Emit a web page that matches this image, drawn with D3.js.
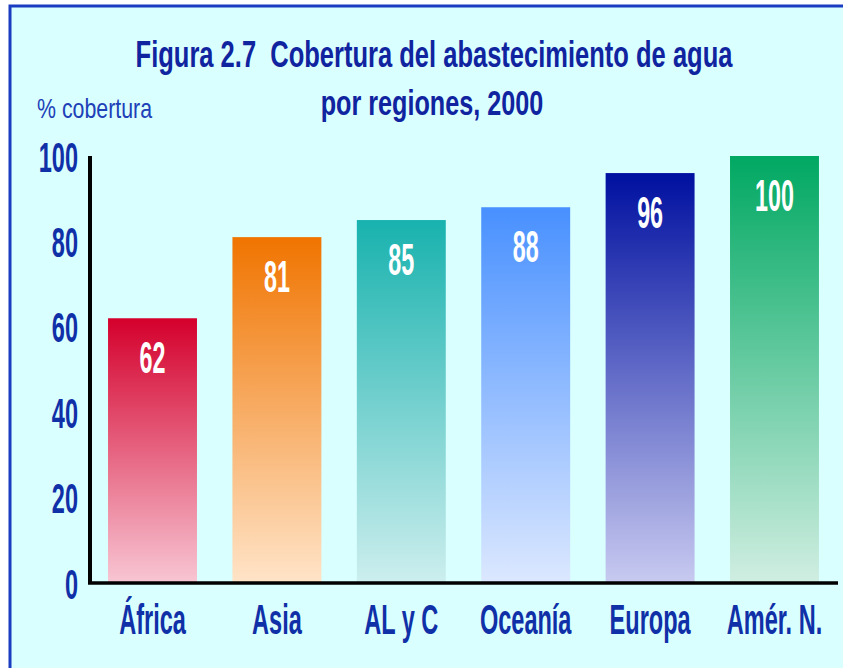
<!DOCTYPE html>
<html>
<head>
<meta charset="utf-8">
<script src="https://cdn.jsdelivr.net/npm/d3@7"></script>
<style>
  body { margin: 0; background: #ffffff; }
  svg { display: block; }
  text { white-space: pre; }
</style>
</head>
<body>
<div id="chart"></div>
<script>
// data
var regions = ["África", "Asia", "AL y C", "Oceanía", "Europa", "Amér. N."]
var coverage = [62, 81, 85, 88, 96, 100]
var yTicks = [0, 20, 40, 60, 80, 100]

// top / bottom colour of each bar's gradient
var topColors = ["#d4002c", "#f07400", "#18b2ae", "#4890ff", "#0010a0", "#00a862"]
var bottomColors = ["#f8c6d4", "#ffe4c8", "#cdeeee", "#dce8ff", "#c8caf0", "#d0eee2"]

var width = 843
var height = 668
var fontName = "'Liberation Sans', Arial, sans-serif"
var textBlue = "#1030a8"

var svg = d3.select('#chart')
            .append('svg')
            .attr('width', width)
            .attr('height', height)

// panel background + frame
svg.append('rect')
    .attr('x', 10).attr('y', 6)
    .attr('width', width - 10).attr('height', height - 6)
    .attr('fill', '#d9ffff')
svg.append('path')
    .attr('d', "M10," + height + " L10,6 L" + width + ",6")
    .attr('fill', 'none')
    .attr('stroke', '#1a3cc0')
    .attr('stroke-width', 3)

// scales
var xScale = d3.scaleBand()
                .domain(regions)
                .range([90, 837])
                .paddingInner(0.285)
                .paddingOuter(0.145)

var yScale = d3.scaleLinear()
                .domain([0, 100])
                .range([583, 156])

// condensed text helper: scale glyphs horizontally around the anchor
function addText (parent, x, y, str, size, sx, opts) {
    opts = opts || {}
    return parent.append('text')
        .attr('transform', "translate(" + x + "," + y + ") scale(" + sx + ",1)")
        .attr('text-anchor', opts.anchor || 'middle')
        .attr('font-family', fontName)
        .attr('font-weight', opts.weight || 'bold')
        .attr('font-size', size)
        .attr('fill', opts.fill || textBlue)
        .text(str)
}

// title
addText(svg, 434, 67, "Figura 2.7  Cobertura del abastecimiento de agua", 37, 0.69, { fill: '#1024a0' })
addText(svg, 432, 115, "por regiones, 2000", 35, 0.72, { fill: '#1024a0' })
addText(svg, 37, 118, "% cobertura", 27, 0.79, { anchor: 'start', weight: 'normal', fill: '#2040b8' })

// gradients
var defs = svg.append('defs')
regions.forEach(function (r, i) {
    var g = defs.append('linearGradient')
        .attr('id', 'grad' + i)
        .attr('x1', 0).attr('y1', 0)
        .attr('x2', 0).attr('y2', 1)
    g.append('stop').attr('offset', '0%').attr('stop-color', topColors[i])
    g.append('stop').attr('offset', '100%').attr('stop-color', bottomColors[i])
})

var barData = regions.map(function (r, i) { return [r, coverage[i]] })

var bars = svg.selectAll('.gBar')
                .data(barData)
                .enter()
                .append('g')
                    .attr('class', 'gBar')

bars.append('rect')
    .attr('x', function (d) { return xScale(d[0]) })
    .attr('y', function (d) { return yScale(d[1]) })
    .attr('width', xScale.bandwidth())
    .attr('height', function (d) { return yScale(0) - yScale(d[1]) })
    .attr('fill', function (d, i) { return 'url(#grad' + i + ')' })

// value labels inside the bars
bars.each(function (d) {
    addText(d3.select(this), xScale(d[0]) + xScale.bandwidth() / 2, yScale(d[1]) + 55,
            d[1], 44, 0.53, { fill: '#ffffff' })
})

// y axis (labels only, plus the black line)
var yAxis = d3.axisLeft(yScale).tickValues(yTicks).tickSize(0).tickPadding(0)
var yG = svg.append('g').attr('transform', 'translate(90,0)').call(yAxis)
yG.select('.domain').remove()
yG.selectAll('.tick text').remove()
yG.selectAll('.tick').each(function (t) {
    addText(d3.select(this), -12, 15, t, 42, 0.56, { anchor: 'end' })
})
svg.append('line')
    .attr('x1', 90).attr('x2', 90)
    .attr('y1', yScale(100)).attr('y2', yScale(0) + 1)
    .attr('stroke', '#000').attr('stroke-width', 4)

// x axis
var xAxis = d3.axisBottom(xScale).tickSize(0).tickPadding(0)
var xG = svg.append('g').attr('transform', 'translate(0,' + yScale(0) + ')').call(xAxis)
xG.select('.domain').remove()
xG.selectAll('.tick text').remove()
xG.selectAll('.tick').each(function (c) {
    addText(d3.select(this), 0, 51, c, 42, 0.56)
})
svg.append('line')
    .attr('x1', 88).attr('x2', 838)
    .attr('y1', yScale(0)).attr('y2', yScale(0))
    .attr('stroke', '#000').attr('stroke-width', 3.5)
</script>
</body>
</html>
